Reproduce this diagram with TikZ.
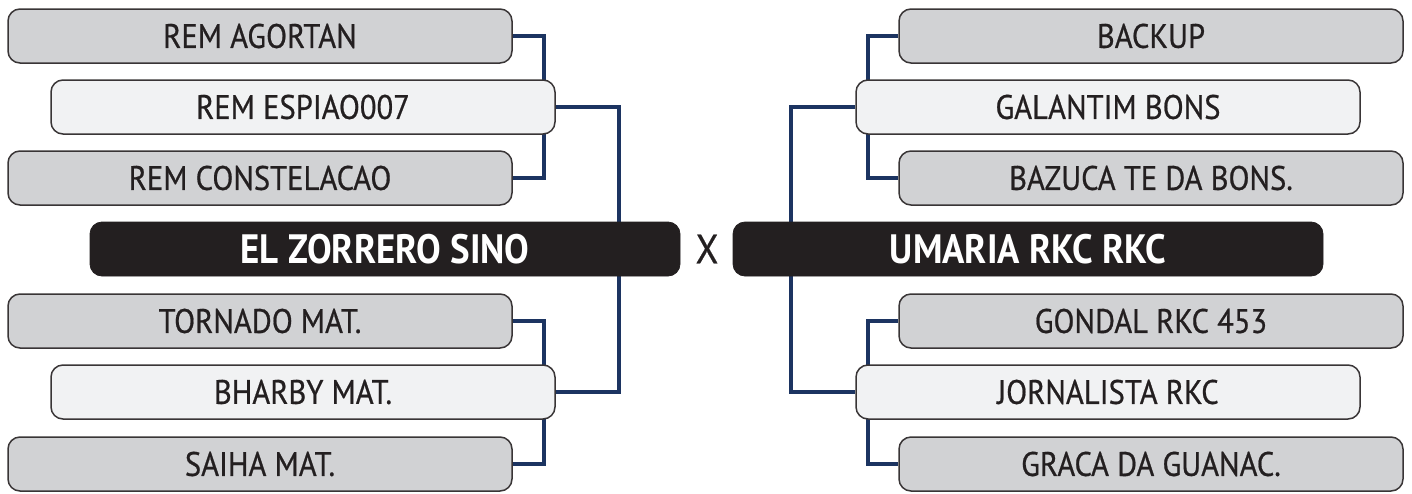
\documentclass[tikz,border=0pt]{standalone}
\usepackage{fontspec}
\setmainfont{PT Sans}
\newfontfamily\labelfont[FakeStretch=0.9,FakeBold=0.6]{PT Sans}
\newfontfamily\teamfont[FakeStretch=0.9]{PT Sans}
\usetikzlibrary{backgrounds}

\definecolor{ink}{HTML}{231F20}
\definecolor{slot}{HTML}{D1D2D4}
\definecolor{seed}{HTML}{F1F2F3}
\definecolor{navy}{HTML}{1C3461}

\begin{document}
\begin{tikzpicture}[x=0.5pt,y=-0.5pt,
  player/.style={draw=ink!90, line width=0.75pt, rounded corners=6pt, fill=slot,
    minimum width=252pt, minimum height=27pt, inner sep=0pt,
    text=ink, font=\labelfont\fontsize{17}{17}\selectfont},
  leader/.style={player, fill=seed},
  team/.style={draw=ink, fill=ink, rounded corners=6pt,
    minimum width=295pt, minimum height=27pt, inner sep=0pt,
    text=white, font=\teamfont\fontsize{20.5}{20.5}\selectfont\bfseries},
  link/.style={draw=navy, line width=2pt}]

\useasboundingbox (0,0) rectangle (1412,493);

 % Nodes
\node[team] (zorrero) at (385,249) {EL ZORRERO SINO};
\node[team] (umaria) at (1028,249) {UMARIA RKC RKC};
\node[text=ink, font=\labelfont\fontsize{20.5}{20.5}\selectfont] (versus) at (707,249) {X};

\node[player] (agortan) at (260,36) {REM AGORTAN};
\node[leader] (espiao) at (303,107) {REM ESPIAO007};
\node[player] (constelacao) at (260,178) {REM CONSTELACAO};
\node[player] (tornado) at (260,321) {TORNADO MAT.};
\node[leader] (bharby) at (303,392) {BHARBY MAT.};
\node[player] (saiha) at (260,464) {SAIHA MAT.};

\node[player] (backup) at (1151,36) {BACKUP};
\node[leader] (galantim) at (1108,107) {GALANTIM BONS};
\node[player] (bazuca) at (1151,178) {BAZUCA TE DA BONS.};
\node[player] (gondal) at (1151,321) {GONDAL RKC 453};
\node[leader] (jornalista) at (1108,392) {JORNALISTA RKC};
\node[player] (graca) at (1151,464) {GRACA DA GUANAC.};

% Connect nodes
\begin{scope}[on background layer]
  \draw[link] (agortan.east) -- ++(31,0) |- (constelacao.east);
  \draw[link] (tornado.east) -- ++(31,0) |- (saiha.east);
  \draw[link] (espiao.east) -- ++(63,0) |- (bharby.east);
  \draw[link] (backup.west) -- ++(-30,0) |- (bazuca.west);
  \draw[link] (gondal.west) -- ++(-30,0) |- (graca.west);
  \draw[link] (galantim.west) -- ++(-64,0) |- (jornalista.west);
\end{scope}

\end{tikzpicture}
\end{document}
